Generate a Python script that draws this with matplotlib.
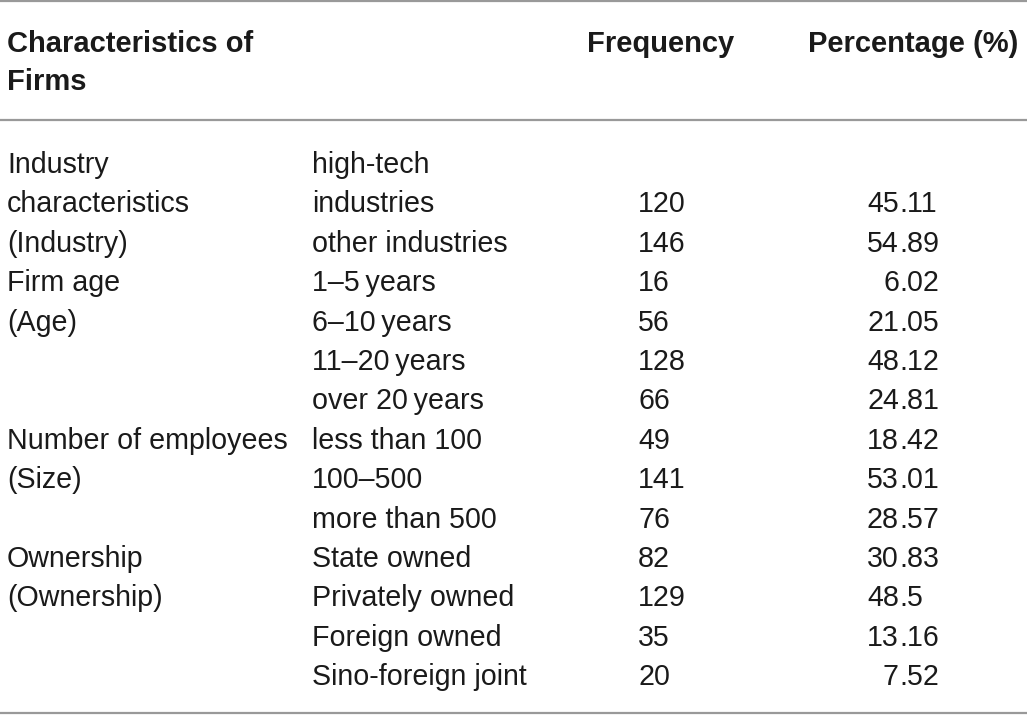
import matplotlib
matplotlib.use('Agg')
import matplotlib.pyplot as plt

# table contents
header_char = ['Characteristics of', 'Firms']
header_freq = 'Frequency'
header_pct = 'Percentage (%)'

group_labels = ['Industry', 'characteristics', '(Industry)',
                'Firm age', '(Age)', '', '',
                'Number of employees', '(Size)', '',
                'Ownership', '(Ownership)', '', '']
categories = ['high-tech', 'industries', 'other industries',
              '1\u20135\u2009years', '6\u201310\u2009years', '11\u201320\u2009years', 'over 20\u2009years',
              'less than 100', '100\u2013500', 'more than 500',
              'State owned', 'Privately owned', 'Foreign owned', 'Sino-foreign joint']
frequency = ['', '120', '146', '16', '56', '128', '66', '49', '141', '76', '82', '129', '35', '20']
percentage = ['', '45.11', '54.89', '6.02', '21.05', '48.12', '24.81', '18.42', '53.01', '28.57',
              '30.83', '48.5', '13.16', '7.52']

W, H = 1034, 716
fig = plt.figure(figsize=(W / 100, H / 100), dpi=100)
ax = fig.add_axes([0, 0, 1, 1])
ax.set_xlim(0, W)
ax.set_ylim(H, 0)
ax.axis('off')

plt.rcParams['font.family'] = ['Liberation Sans', 'DejaVu Sans']
fs = 20.6
fs_head = 21
txt_color = '#1a1a1a'
line_color = '#999999'

x_col0, x_col1, x_freq, x_dec = 7, 312, 638, 899
x_freq_head, x_pct_head = 734, 1018

# rules
for y in (1, 120, 713):
    ax.plot([0, 1027], [y, y], color=line_color, lw=1.6, solid_capstyle='butt')

# header
for i, s in enumerate(header_char):
    ax.text(x_col0, 52 + i * 38, s, fontsize=fs_head, fontweight='bold', color=txt_color, va='baseline')
ax.text(x_freq_head, 52, header_freq, fontsize=fs_head, fontweight='bold', color=txt_color,
        va='baseline', ha='right')
ax.text(x_pct_head, 52, header_pct, fontsize=fs_head, fontweight='bold', color=txt_color,
        va='baseline', ha='right')

# body rows
y0, dy = 173, 39.4
for i in range(len(categories)):
    y = y0 + i * dy
    ax.text(x_col0, y, group_labels[i], fontsize=fs, color=txt_color, va='baseline')
    ax.text(x_col1, y, categories[i], fontsize=fs, color=txt_color, va='baseline')
    ax.text(x_freq, y, frequency[i], fontsize=fs, color=txt_color, va='baseline')
    if percentage[i]:
        whole, frac = percentage[i].split('.')
        ax.text(x_dec, y, whole, fontsize=fs, color=txt_color, va='baseline', ha='right')
        ax.text(x_dec, y, '.' + frac, fontsize=fs, color=txt_color, va='baseline', ha='left')

fig.savefig('out.png', dpi=100)
